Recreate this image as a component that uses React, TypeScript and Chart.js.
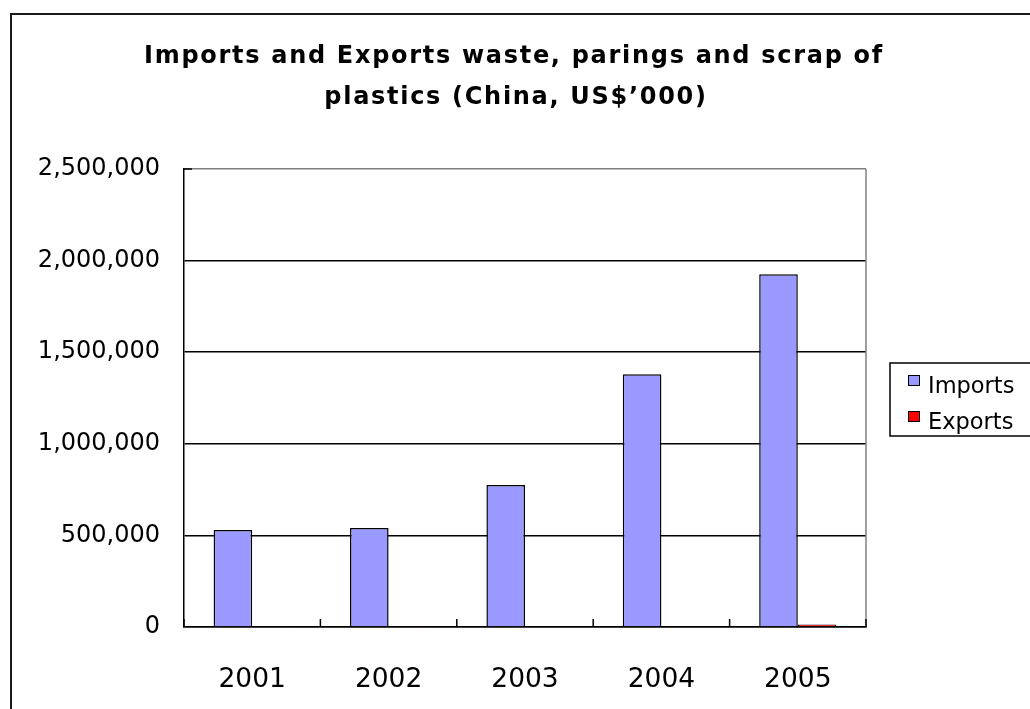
import React, { useEffect, useRef } from "react";
import { Chart, registerables } from "chart.js";

Chart.register(...registerables);

const categories = ["2001", "2002", "2003", "2004", "2005"];
const seriesNames = ["Imports", "Exports"];
const importsValues = [530000, 540000, 775000, 1380000, 1925000];
const exportsValues = [2500, 2500, 3000, 3500, 14000];
const seriesColors = ["#9999FF", "#FF0000"];
const yMax = 2500000;
const yStep = 500000;
const titleLines = ["Imports and Exports waste, parings and scrap of", "plastics (China, US$\u2019000)"];

const FONT = "'DejaVu Sans', sans-serif";

const framePlugin = {
  id: "frame",
  beforeDraw(chart: any) {
    const ctx = chart.ctx;
    ctx.save();
    ctx.fillStyle = "#ffffff";
    ctx.fillRect(0, 0, chart.width, chart.height);
    ctx.strokeStyle = "#1a1a1a";
    ctx.lineWidth = 2;
    ctx.strokeRect(11, 14, chart.width + 20, chart.height + 20);
    ctx.restore();
  },
  afterDatasetsDraw(chart: any) {
    const ctx = chart.ctx;
    const a = chart.chartArea;
    const xs = chart.scales.x;
    ctx.save();
    // title
    ctx.fillStyle = "#000";
    ctx.font = "bold 24px " + FONT;
    (ctx as any).letterSpacing = "1.7px";
    ctx.textAlign = "center";
    ctx.textBaseline = "middle";
    ctx.fillText(titleLines[0], 514, 57);
    ctx.fillText(titleLines[1], 516, 98);
    (ctx as any).letterSpacing = "0px";
    // right border (gray)
    ctx.strokeStyle = "#808080";
    ctx.lineWidth = 1.5;
    ctx.beginPath();
    ctx.moveTo(a.right, a.top);
    ctx.lineTo(a.right, a.bottom);
    ctx.stroke();
    // inner ticks on category axis
    ctx.strokeStyle = "#000";
    ctx.lineWidth = 1.5;
    for (let i = 0; i <= categories.length; i++) {
      const px = xs.getPixelForValue(i - 0.5);
      ctx.beginPath();
      ctx.moveTo(px, a.bottom);
      ctx.lineTo(px, a.bottom - 8);
      ctx.stroke();
    }
    // inner tick at top of value axis
    ctx.beginPath();
    ctx.moveTo(a.left, a.top);
    ctx.lineTo(a.left + 8, a.top);
    ctx.stroke();
    // legend
    const lx = 890, ly = 363, lh = 73;
    ctx.lineWidth = 1.5;
    ctx.strokeStyle = "#000";
    ctx.strokeRect(lx, ly, chart.width - lx + 10, lh);
    ctx.font = "22.5px " + FONT;
    ctx.textBaseline = "middle";
    ctx.textAlign = "left";
    const rows = [386, 422];
    chart.data.datasets.forEach((ds: any, i: number) => {
      const cy = rows[i];
      ctx.fillStyle = ds.backgroundColor;
      ctx.fillRect(908, cy - 11, 12, 11);
      ctx.lineWidth = 1;
      ctx.strokeStyle = "#000";
      ctx.strokeRect(908.5, cy - 10.5, 11, 10);
      ctx.fillStyle = "#000";
      ctx.fillText(ds.label, 928, cy + 1);
    });
    ctx.restore();
  },
};

export default function App() {
  const ref = useRef<HTMLCanvasElement>(null);
  useEffect(() => {
    const chart = new Chart(ref.current as HTMLCanvasElement, {
      type: "bar",
      data: {
        labels: categories,
        datasets: [
          {
            label: seriesNames[0],
            data: importsValues,
            backgroundColor: seriesColors[0],
            borderColor: "#000",
            borderWidth: 1.5,
            categoryPercentage: 0.566,
            barPercentage: 1.0,
          },
          {
            label: seriesNames[1],
            data: exportsValues,
            backgroundColor: seriesColors[1],
            borderColor: "#000",
            borderWidth: 1.5,
            categoryPercentage: 0.566,
            barPercentage: 1.0,
          },
        ],
      },
      options: {
        responsive: false,
        animation: false,
        devicePixelRatio: 1,
        layout: { padding: { left: 0, right: 164, top: 169, bottom: 0 } },
        plugins: {
          legend: { display: false },
          tooltip: { enabled: false },
          title: { display: false },
        },
        scales: {
          x: {
            grid: { display: false, drawTicks: false },
            border: { display: true, color: "#000", width: 1.5 },
            ticks: { color: "#000", font: { family: FONT, size: 26.5 }, padding: 37 },
            afterFit(scale: any) {
              scale.height = 82;
            },
          },
          y: {
            min: 0,
            max: yMax,
            grid: {
              drawTicks: false,
              lineWidth: 1.5,
              color: (c: any) => (c.tick && c.tick.value === yMax ? "#808080" : "#000"),
            },
            border: { display: true, color: "#000", width: 1.5 },
            ticks: {
              stepSize: yStep,
              color: "#000",
              font: { family: FONT, size: 24 },
              padding: 24,
              callback: (v: any) => Number(v).toLocaleString("en-US"),
            },
            afterFit(scale: any) {
              scale.width = 184;
            },
          },
        },
      },
      plugins: [framePlugin],
    });
    return () => chart.destroy();
  }, []);
  return (
    <div style={{ position: "fixed", left: 0, top: 0, width: 1030, height: 709, background: "#fff" }}>
      <canvas ref={ref} width={1030} height={709} style={{ display: "block" }} />
    </div>
  );
}
